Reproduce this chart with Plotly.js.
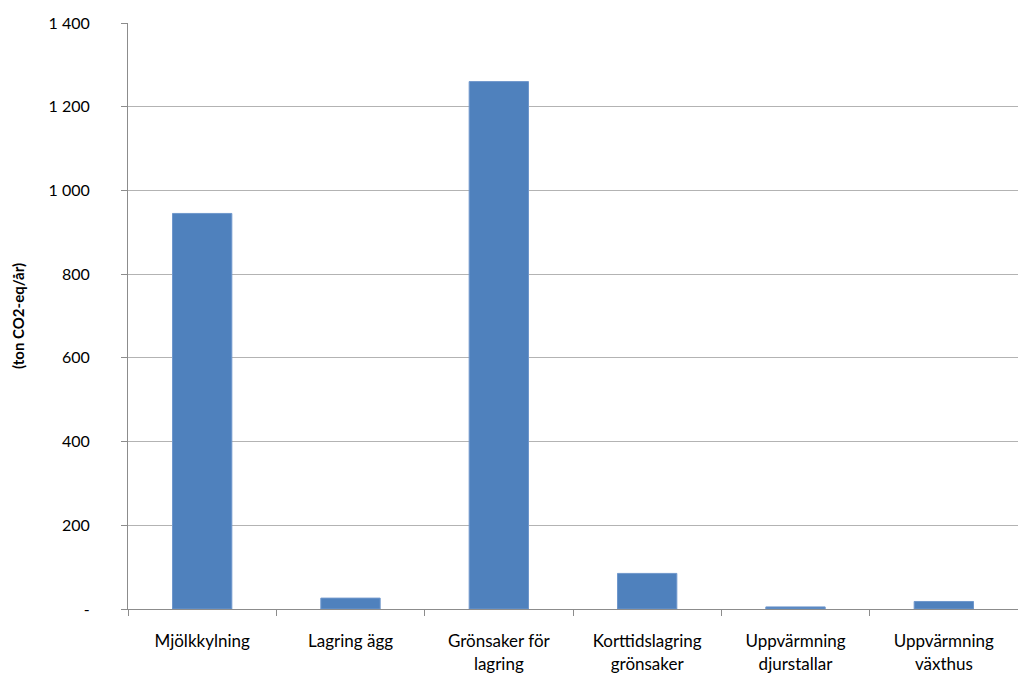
<!DOCTYPE html>
<html><head><meta charset="utf-8">
<script src="https://cdn.plot.ly/plotly-3.0.1.min.js"></script>
<style>body{margin:0;padding:0;background:#fff}#c{width:1018px;height:675px}</style>
</head><body><div id="c"></div>
<script>
var categories = ["Mjölkkylning", "Lagring ägg", "Grönsaker för<br>lagring", "Korttidslagring<br>grönsaker", "Uppvärmning<br>djurstallar", "Uppvärmning<br>växthus"];
var values = [945, 26, 1260, 85, 5, 18];
var yTickVals = [0, 200, 400, 600, 800, 1000, 1200, 1400];
var yTickText = ["-", "200", "400", "600", "800", "1 000", "1 200", "1 400"];
var yTitle = "(ton CO2-eq/år)";

Plotly.newPlot("c", [{
  type: "bar", x: categories, y: values,
  marker: {color: "#4f81bd", line: {color: "#6f97cc", width: 1}},
  width: 0.4, hoverinfo: "none"
}], {
  width: 1018, height: 675,
  margin: {l: 128, r: 0, t: 23, b: 66},
  paper_bgcolor: "#fff", plot_bgcolor: "#fff",
  font: {family: "Lato, 'Open Sans', sans-serif", color: "#000", size: 15},
  showlegend: false,
  xaxis: {
    type: "category", showgrid: false, showline: true, linecolor: "#8c8c8c", linewidth: 1,
    ticks: "outside", tickson: "boundaries", ticklen: 6, tickcolor: "#8c8c8c",
    ticklabelstandoff: 17,
    tickfont: {size: 17}, automargin: false
  },
  yaxis: {
    range: [0, 1400], tickvals: yTickVals, ticktext: yTickText,
    showgrid: true, gridcolor: "#b3b3b3", gridwidth: 1,
    showline: true, linecolor: "#8c8c8c", linewidth: 1,
    ticks: "outside", ticklen: 6, tickcolor: "#8c8c8c", ticklabelstandoff: 28,
    tickfont: {size: 16}, zeroline: false, automargin: false
  },
  annotations: [{
    text: "<b>" + yTitle + "</b>", xref: "paper", yref: "paper",
    x: -128/890 + 18/890, y: 0.5, xanchor: "center", yanchor: "middle",
    textangle: -90, showarrow: false, font: {size: 15}
  }]
}, {staticPlot: true});
</script></body></html>
